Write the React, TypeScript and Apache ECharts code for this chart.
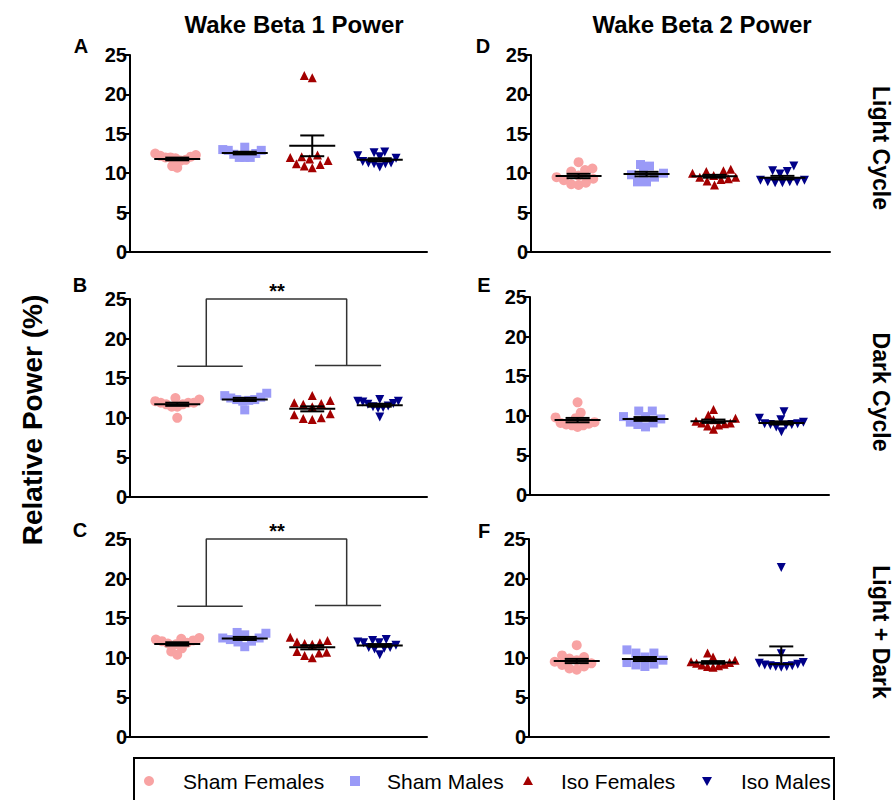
import React, { useEffect, useRef } from "react";
import * as echarts from "echarts";

const categories = ["Sham Females", "Sham Males", "Iso Females", "Iso Males"];
const yTicks = [0, 5, 10, 15, 20, 25];
const columnTitles = ["Wake Beta 1 Power", "Wake Beta 2 Power"];
const rowTitles = ["Light Cycle", "Dark Cycle", "Light + Dark"];
const panelLetters = ["A", "B", "C", "D", "E", "F"];

// Beta 1 – light cycle (A)
const panelA: number[][] = [
  [12.5, 12.3, 11.9, 11.6, 10.7, 12.0, 11.7, 10.9, 12.1, 12.2, 12.0],
  [12.9, 12.0, 13.3, 12.5, 12.4, 12.9, 12.0, 13.0, 12.0],
  [22.4, 22.1, 12.3, 10.9, 11.6, 12.0, 11.1, 12.1, 11.2, 11.8, 10.7],
  [11.9, 11.3, 11.2, 11.2, 11.3, 10.8, 12.7, 11.5, 12.2, 12.6, 12.1],
];
// Beta 1 – dark cycle (B)
const panelB: number[][] = [
  [12.5, 12.3, 11.9, 11.7, 11.4, 10.0, 12.1, 11.9, 11.7, 11.9, 11.4],
  [12.8, 11.0, 13.1, 12.3, 12.6, 12.2, 12.5, 12.1, 12.3],
  [12.2, 12.8, 11.9, 11.7, 11.4, 10.5, 10.0, 9.9, 10.4, 11.8, 9.8],
  [12.1, 12.0, 12.3, 11.7, 11.4, 11.3, 11.2, 10.1, 12.1, 11.8, 11.5],
];
// Beta 1 – light + dark (C)
const panelC: number[][] = [
  [12.5, 12.3, 12.1, 11.9, 11.7, 11.2, 10.8, 10.4, 12.2, 12.4, 11.8],
  [12.9, 11.4, 13.2, 12.5, 12.3, 12.1, 13.1, 12.0, 12.5],
  [12.2, 10.6, 12.6, 11.8, 10.7, 11.9, 10.8, 12.0, 11.7, 10.0, 10.3],
  [12.3, 12.2, 11.9, 12.0, 11.3, 11.1, 10.4, 11.2, 11.6, 11.9, 11.3],
];
// Beta 2 – light cycle (D)
const panelD: number[][] = [
  [11.4, 10.4, 10.6, 10.2, 9.7, 9.5, 9.1, 8.5, 8.6, 8.8, 9.3],
  [10.9, 8.9, 10.0, 9.8, 10.0, 8.9, 11.1, 9.5],
  [10.5, 10.2, 10.3, 10.0, 9.2, 9.0, 9.3, 8.5, 9.5, 9.7, 9.5],
  [10.9, 10.3, 10.2, 9.9, 9.1, 8.9, 8.8, 8.9, 8.8, 8.9, 9.1],
];
// Beta 2 – dark cycle (E)
const panelE: number[][] = [
  [11.7, 10.4, 9.8, 9.2, 9.0, 8.8, 8.6, 8.9, 9.1, 9.7, 8.8],
  [9.9, 8.6, 10.6, 9.6, 9.1, 9.9, 8.9, 10.6, 9.2],
  [10.1, 10.8, 9.1, 9.0, 9.3, 8.3, 8.85, 9.1, 9.7, 9.5, 8.7],
  [9.7, 10.5, 9.2, 9.0, 8.8, 8.6, 8.0, 8.9, 9.5, 8.9, 9.0],
];
// Beta 2 – light + dark (F)
const panelF: number[][] = [
  [11.6, 10.1, 10.3, 9.9, 9.3, 9.1, 8.5, 8.9, 9.5, 9.7, 8.65],
  [11.0, 8.9, 9.7, 10.1, 9.1, 10.6, 9.4, 10.6, 9.2],
  [10.6, 9.3, 10.1, 8.9, 9.1, 9.4, 9.2, 8.8, 9.5, 9.0, 9.7],
  [21.4, 10.5, 9.4, 9.3, 9.1, 8.9, 8.9, 9.0, 8.8, 9.2, 9.0],
];

// significance brackets (panels B and C): [x, y] in data units
const bracketLeftBar = [[1.0, 16.5], [1.97, 16.5]];
const bracketRightBar = [[3.04, 16.6], [4.02, 16.6]];
const bracketArch = [[1.43, 16.5], [1.43, 25], [3.51, 25], [3.51, 16.6]];
const sigLabel = "**";

const panels = [panelA, panelB, panelC, panelD, panelE, panelF];

const FONT = "'Liberation Sans', Arial, Helvetica, sans-serif";
const colors = ["#F8A3A3", "#9A9AF7", "#A30000", "#000088"];
const symbols = ["circle", "rect", "triangle", "triangle"];
const rotates = [0, 0, 0, 180];
const sizes = [10, 9, 9, 9];

const grids = [
  { left: 130, top: 55, width: 297, height: 197 },
  { left: 130, top: 299, width: 297, height: 198 },
  { left: 130, top: 539, width: 297, height: 198 },
  { left: 531, top: 55, width: 299, height: 197 },
  { left: 530, top: 297, width: 299, height: 198 },
  { left: 529, top: 539, width: 300, height: 198 },
];
const X_MIN = 0.3;
const X_MAX = 4.7;
const MAX_SPREAD_PX = 22;

function meanOf(a: number[]) {
  return a.reduce((s, v) => s + v, 0) / a.length;
}
function semOf(a: number[]) {
  const m = meanOf(a);
  const v = a.reduce((s, x) => s + (x - m) * (x - m), 0) / (a.length - 1);
  return Math.sqrt(v) / Math.sqrt(a.length);
}

// deterministic beeswarm layout (horizontal offsets in data units), compressed to a max width
function swarm(vals: number[], yPx: number, xPx: number, diam: number) {
  const order = vals.map((_, i) => i).sort((a, b) => vals[a] - vals[b]);
  const placed: { x: number; y: number }[] = [];
  const px = new Array(vals.length).fill(0);
  for (const i of order) {
    const y = vals[i] * yPx;
    let chosen = 0;
    for (let k = 0; k < 400; k++) {
      const cand = (k % 2 === 0 ? 1 : -1) * Math.ceil(k / 2);
      if (placed.every((p) => (p.x - cand) ** 2 + (p.y - y) ** 2 >= diam * diam)) {
        chosen = cand;
        break;
      }
    }
    placed.push({ x: chosen, y });
    px[i] = chosen;
  }
  const maxAbs = Math.max(1, ...px.map((v) => Math.abs(v)));
  const k = maxAbs > MAX_SPREAD_PX ? MAX_SPREAD_PX / maxAbs : 1;
  return px.map((v) => (v * k) / xPx);
}

export default function App() {
  const ref = useRef<HTMLDivElement>(null);
  useEffect(() => {
    document.body.style.margin = "0";
    if (!ref.current) return;
    const chart = echarts.init(ref.current, null, { renderer: "svg" });

    const series: any[] = [];
    panels.forEach((panel, pi) => {
      const g = grids[pi];
      const yPx = g.height / 25;
      const xPx = g.width / (X_MAX - X_MIN);
      panel.forEach((vals, gi) => {
        const offs = swarm(vals, yPx, xPx, 9);
        series.push({
          type: "scatter",
          name: categories[gi],
          xAxisIndex: pi,
          yAxisIndex: pi,
          symbol: symbols[gi],
          symbolRotate: rotates[gi],
          symbolSize: sizes[gi],
          itemStyle: { color: colors[gi], opacity: 1 },
          data: vals.map((v, i) => [gi + 1 + offs[i], v]),
          z: 2,
        });
      });
      series.push({
        type: "custom",
        xAxisIndex: pi,
        yAxisIndex: pi,
        z: 5,
        dimensions: ["x", "mean", "sem"],
        encode: { x: 0, y: 1 },
        data: panel.map((vals, gi) => [gi + 1, meanOf(vals), semOf(vals)]),
        renderItem: (params: any, api: any) => {
          const x = api.value(0);
          const m = api.value(1);
          const s = api.value(2);
          const c = api.coord([x, m]);
          const t = api.coord([x, m + s]);
          const b = api.coord([x, m - s]);
          const st = { stroke: "#000", lineWidth: 2 };
          return {
            type: "group",
            children: [
              { type: "line", shape: { x1: c[0] - 23, y1: c[1], x2: c[0] + 23, y2: c[1] }, style: st },
              { type: "line", shape: { x1: c[0], y1: t[1], x2: c[0], y2: b[1] }, style: st },
              { type: "line", shape: { x1: c[0] - 12, y1: t[1], x2: c[0] + 12, y2: t[1] }, style: st },
              { type: "line", shape: { x1: c[0] - 12, y1: b[1], x2: c[0] + 12, y2: b[1] }, style: st },
            ],
          };
        },
      });
    });

    [1, 2].forEach((pi) => {
      [bracketLeftBar, bracketRightBar, bracketArch].forEach((seg) => {
        series.push({
          type: "line",
          xAxisIndex: pi,
          yAxisIndex: pi,
          data: seg,
          symbol: "none",
          clip: false,
          lineStyle: { color: "#333", width: 1.5 },
          silent: true,
          z: 3,
        });
      });
    });

    const graphic: any[] = [];
    const textStyle = (extra: any) => ({ fontFamily: FONT, fill: "#000", ...extra });
    graphic.push({ type: "text", x: 294, y: 24, style: textStyle({ text: columnTitles[0], fontSize: 24, fontWeight: "bold", align: "center", verticalAlign: "middle" }) });
    graphic.push({ type: "text", x: 702, y: 24, style: textStyle({ text: columnTitles[1], fontSize: 24, fontWeight: "bold", align: "center", verticalAlign: "middle" }) });
    const rowY = [148, 392, 632];
    rowTitles.forEach((t, i) => {
      graphic.push({ type: "text", x: 881, y: rowY[i], rotation: -Math.PI / 2, style: textStyle({ text: t, fontSize: 23, fontWeight: "bold", align: "center", verticalAlign: "middle" }) });
    });
    const letterPos = [[81, 46], [80, 285], [80, 530], [483, 46], [484, 285], [484, 531]];
    panelLetters.forEach((l, i) => {
      graphic.push({ type: "text", x: letterPos[i][0], y: letterPos[i][1], style: textStyle({ text: l, fontSize: 20, fontWeight: "bold", align: "center", verticalAlign: "middle" }) });
    });
    graphic.push({ type: "text", x: 32, y: 420, rotation: Math.PI / 2, style: textStyle({ text: "Relative Power (%)", fontSize: 28, fontWeight: "bold", align: "center", verticalAlign: "middle" }) });
    graphic.push({ type: "text", x: 277, y: 291, style: textStyle({ text: sigLabel, fontSize: 20, fontWeight: "bold", align: "center", verticalAlign: "middle" }) });
    graphic.push({ type: "text", x: 277, y: 531, style: textStyle({ text: sigLabel, fontSize: 20, fontWeight: "bold", align: "center", verticalAlign: "middle" }) });
    graphic.push({ type: "rect", shape: { x: 134, y: 758, width: 700, height: 60 }, style: { fill: "none", stroke: "#000", lineWidth: 2 } });
    const legY = 781;
    const markX = [149, 355, 528, 707];
    const textX = [183, 387, 561, 741];
    graphic.push({ type: "circle", shape: { cx: markX[0], cy: legY, r: 5 }, style: { fill: colors[0] } });
    graphic.push({ type: "rect", shape: { x: markX[1] - 5, y: legY - 5, width: 10, height: 10 }, style: { fill: colors[1] } });
    graphic.push({ type: "polygon", shape: { points: [[markX[2], legY - 5], [markX[2] + 5, legY + 4], [markX[2] - 5, legY + 4]] }, style: { fill: colors[2] } });
    graphic.push({ type: "polygon", shape: { points: [[markX[3], legY + 5], [markX[3] + 5, legY - 4], [markX[3] - 5, legY - 4]] }, style: { fill: colors[3] } });
    categories.forEach((c, i) => {
      graphic.push({ type: "text", x: textX[i], y: legY, style: textStyle({ text: c, fontSize: 21, align: "left", verticalAlign: "middle" }) });
    });

    chart.setOption({
      animation: false,
      grid: grids.map((g) => ({ ...g })),
      xAxis: grids.map((_, i) => ({
        gridIndex: i,
        type: "value",
        min: X_MIN,
        max: X_MAX,
        axisLine: { show: true, onZero: false, lineStyle: { color: "#000", width: 2 } },
        axisTick: { show: false },
        axisLabel: { show: false },
        splitLine: { show: false },
      })),
      yAxis: grids.map((_, i) => ({
        gridIndex: i,
        type: "value",
        min: yTicks[0],
        max: yTicks[yTicks.length - 1],
        interval: 5,
        axisLine: { show: true, onZero: false, lineStyle: { color: "#000", width: 2 } },
        axisTick: { show: true, length: 5, lineStyle: { color: "#000", width: 2 } },
        axisLabel: { color: "#000", fontSize: 20, fontWeight: "bold", fontFamily: FONT, margin: 3 },
        splitLine: { show: false },
      })),
      series,
      graphic,
    });
    return () => chart.dispose();
  }, []);
  return <div ref={ref} style={{ width: 895, height: 800 }} />;
}
